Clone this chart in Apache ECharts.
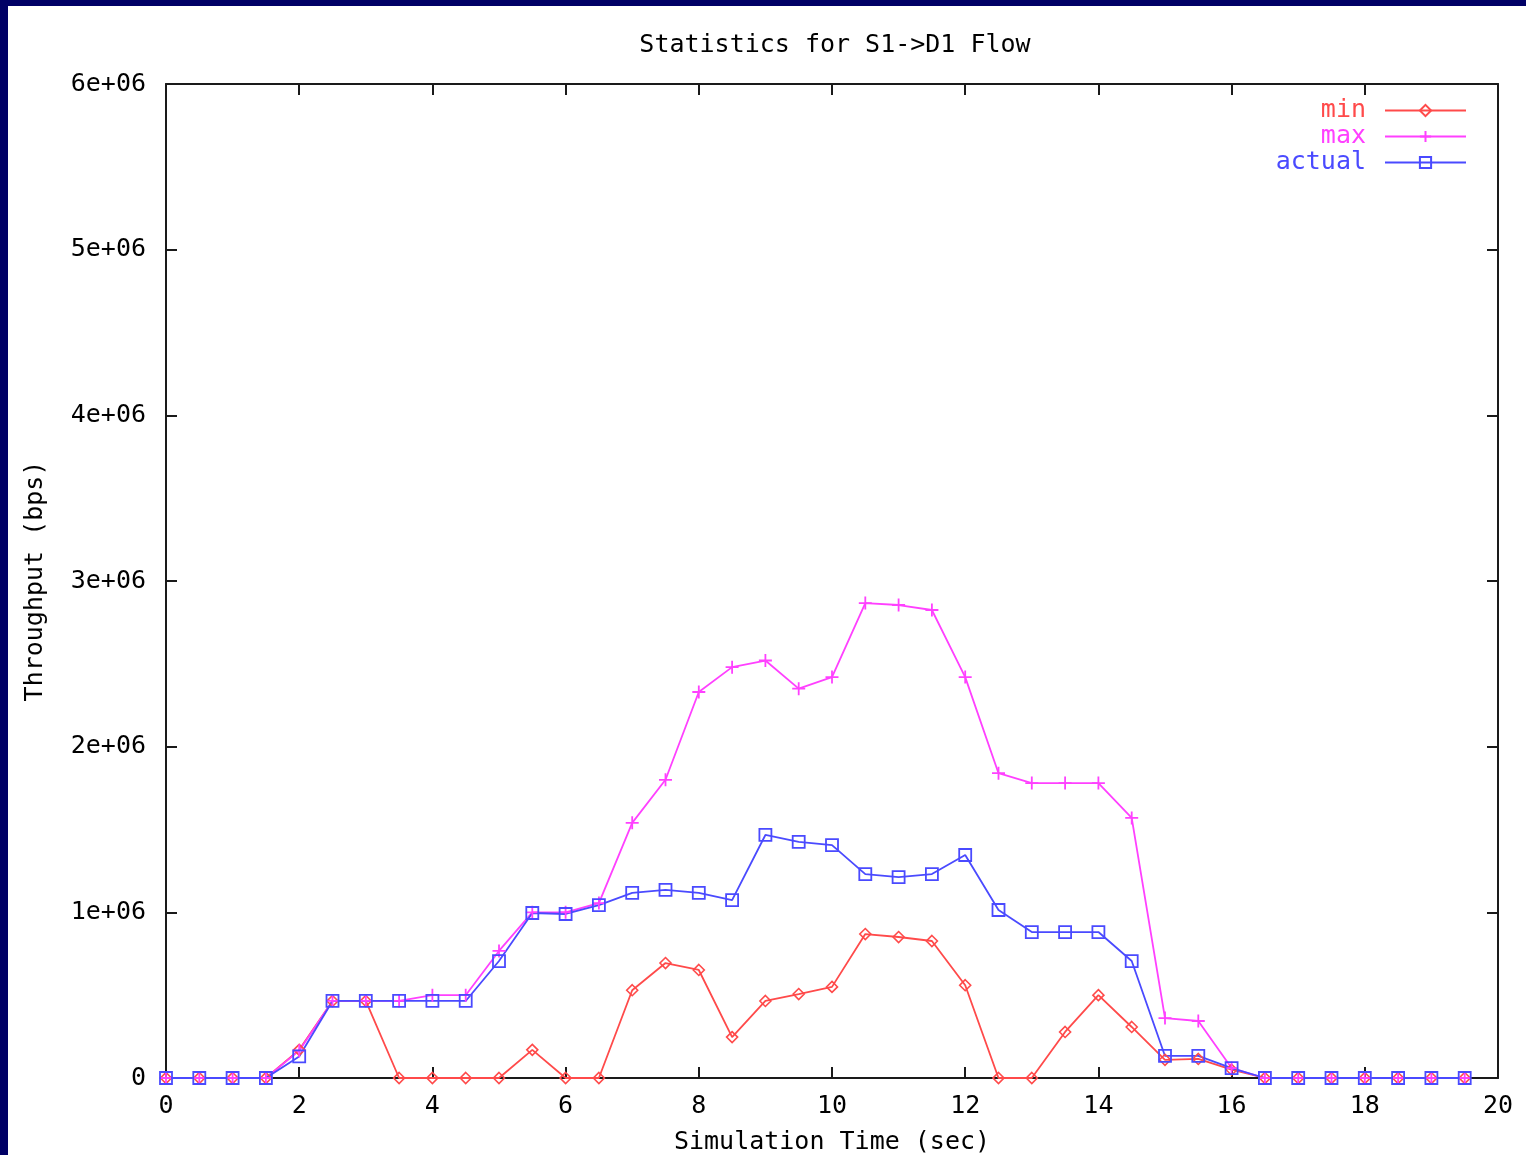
<!DOCTYPE html>
<html>
<head>
<meta charset="utf-8">
<script src="https://cdn.jsdelivr.net/npm/echarts@6/dist/echarts.min.js"></script>
<style>
  html, body { margin: 0; padding: 0; background: #000066; width: 1526px; height: 1155px; overflow: hidden; }
  #chart { position: absolute; left: 8px; top: 6px; width: 1518px; height: 1149px; background: #ffffff; }
</style>
</head>
<body>
<div id="chart"></div>
<script>
const times = [0,0.5,1,1.5,2,2.5,3,3.5,4,4.5,5,5.5,6,6.5,7,7.5,8,8.5,9,9.5,10,10.5,11,11.5,12,12.5,13,13.5,14,14.5,15,15.5,16,16.5,17,17.5,18,18.5,19,19.5];
const minVals = [0,0,0,0,170000,465000,465000,0,0,0,0,170000,0,0,530000,694000,652000,247000,465000,507000,550000,869000,851000,827000,560000,0,0,278000,500000,308000,110000,115000,50000,0,0,0,0,0,0,0];
const maxVals = [0,0,0,0,165000,465000,465000,465000,500000,500000,767000,1000000,1000000,1056000,1540000,1800000,2330000,2480000,2520000,2350000,2420000,2867000,2855000,2825000,2420000,1840000,1780000,1780000,1780000,1570000,362000,344000,60000,0,0,0,0,0,0,0];
const actualVals = [0,0,0,0,130000,465000,465000,465000,465000,465000,706000,996000,990000,1044000,1117000,1135000,1117000,1074000,1467000,1425000,1406000,1231000,1213000,1231000,1346000,1014000,881000,881000,881000,706000,133000,133000,60000,0,0,0,0,0,0,0];
const yTickLabels = ['0','1e+06','2e+06','3e+06','4e+06','5e+06','6e+06'];

const FONT = 'DejaVu Sans Mono';
const FS = 25;
const RED = '#ff4a4a', MAG = '#ff40ff', BLUE = '#4a4aff';
const pair = v => times.map((t, i) => [t, v[i]]);

const chart = echarts.init(document.getElementById('chart'), null, { renderer: 'canvas', width: 1518, height: 1149 });
const axisLine = { show: true, onZero: false, lineStyle: { color: '#1a1a1a', width: 2 } };
const axisTick = { show: true, inside: true, length: 11, lineStyle: { color: '#1a1a1a', width: 2 } };

chart.setOption({
  animation: false,
  backgroundColor: '#ffffff',
  title: {
    text: 'Statistics for S1->D1 Flow',
    left: 822, top: 22, textAlign: 'center',
    textStyle: { fontFamily: FONT, fontSize: FS, fontWeight: 'normal', color: '#000' }
  },
  legend: {
    orient: 'vertical', right: 54, top: 87, align: 'right',
    itemWidth: 81, itemHeight: 14, itemGap: 1,
    textStyle: { fontFamily: FONT, fontSize: FS, padding: [0, 14, 0, 0] },
    data: [
      { name: 'min', textStyle: { color: RED } },
      { name: 'max', textStyle: { color: MAG } },
      { name: 'actual', textStyle: { color: BLUE } }
    ]
  },
  grid: { left: 158, width: 1332, top: 78, height: 994, containLabel: false, outerBoundsMode: 'none' },
  xAxis: [
    {
      type: 'value', min: 0, max: 20, interval: 2, position: 'bottom',
      name: 'Simulation Time (sec)', nameLocation: 'middle', nameGap: 52,
      nameTextStyle: { fontFamily: FONT, fontSize: FS, color: '#000' },
      axisLine, axisTick, splitLine: { show: false },
      axisLabel: { fontFamily: FONT, fontSize: FS, color: '#000', margin: 16 }
    },
    {
      type: 'value', min: 0, max: 20, interval: 2, position: 'top',
      axisLine, axisTick, splitLine: { show: false }, axisLabel: { show: false }
    }
  ],
  yAxis: [
    {
      type: 'value', min: 0, max: 6000000, interval: 1000000, position: 'left',
      name: 'Throughput (bps)', nameLocation: 'middle', nameGap: 118, nameRotate: 90,
      nameTextStyle: { fontFamily: FONT, fontSize: FS, color: '#000' },
      axisLine, axisTick, splitLine: { show: false },
      axisLabel: { fontFamily: FONT, fontSize: FS, color: '#000', margin: 20,
        formatter: v => yTickLabels[Math.round(v / 1000000)] }
    },
    {
      type: 'value', min: 0, max: 6000000, interval: 1000000, position: 'right',
      axisLine, axisTick, splitLine: { show: false }, axisLabel: { show: false }
    }
  ],
  series: [
    {
      name: 'min', type: 'line', data: pair(minVals), color: RED,
      symbol: 'diamond', symbolSize: 11, showAllSymbol: true,
      lineStyle: { color: RED, width: 1.8 },
      itemStyle: { color: 'rgba(255,255,255,0)', borderColor: RED, borderWidth: 1.6 }
    },
    {
      name: 'max', type: 'line', data: pair(maxVals), color: MAG,
      symbol: 'path://M0,5L10,5M5,0L5,10', symbolSize: 13, showAllSymbol: true,
      lineStyle: { color: MAG, width: 1.8 },
      itemStyle: { color: MAG, borderColor: MAG, borderWidth: 1.8 }
    },
    {
      name: 'actual', type: 'line', data: pair(actualVals), color: BLUE,
      symbol: 'rect', symbolSize: 12, showAllSymbol: true,
      lineStyle: { color: BLUE, width: 1.8 },
      itemStyle: { color: 'rgba(255,255,255,0)', borderColor: BLUE, borderWidth: 1.8 }
    }
  ]
});
</script>
</body>
</html>
